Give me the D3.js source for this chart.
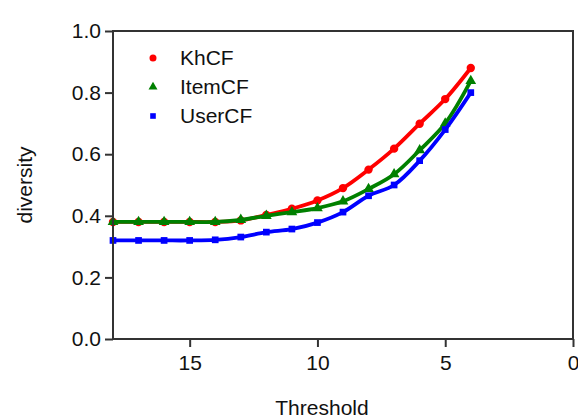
<!DOCTYPE html>
<html><head><meta charset="utf-8">
<script src="https://cdn.jsdelivr.net/npm/d3@7"></script>
<style>body{margin:0;background:#fff}svg{display:block}text{font-family:Arial,"Liberation Sans",sans-serif}</style>
</head><body><svg id="c" width="578" height="418"></svg>
<script>
const thresholds = [18,17,16,15,14,13,12,11,10,9,8,7,6,5,4];
const khcf   = [0.38,0.38,0.38,0.38,0.38,0.385,0.403,0.423,0.45,0.49,0.55,0.618,0.699,0.779,0.88];
const itemcf = [0.38,0.38,0.38,0.38,0.38,0.387,0.40,0.412,0.425,0.447,0.487,0.535,0.613,0.70,0.838];
const usercf = [0.32,0.32,0.32,0.32,0.322,0.331,0.347,0.357,0.378,0.412,0.465,0.50,0.579,0.68,0.80];
const seriesNames = ["KhCF","ItemCF","UserCF"];
const xTicks = [15,10,5,0];
const yTicks = [0,0.2,0.4,0.6,0.8,1.0];

const svg = d3.select("#c");
const x = d3.scaleLinear().domain([18,0]).range([113,573]);
const y = d3.scaleLinear().domain([0,1]).range([339,31]);
const axisColor = "#333";
const fs = "21px";

const series = [
  {name:seriesNames[0], vals:khcf, color:"#ff0000", shape:d3.symbolCircle, size:55},
  {name:seriesNames[1], vals:itemcf, color:"#008000", shape:d3.symbolTriangle, size:50},
  {name:seriesNames[2], vals:usercf, color:"#0000ff", shape:d3.symbolSquare, size:45}
];

const line = d3.line().x(d=>x(d[0])).y(d=>y(d[1])).curve(d3.curveCatmullRom.alpha(0.5));
series.forEach(s=>{
  const pts = thresholds.map((t,i)=>[t,s.vals[i]]);
  svg.append("path").attr("d",line(pts)).attr("fill","none").attr("stroke",s.color).attr("stroke-width",3.8);
  svg.selectAll(null).data(pts).enter().append("path")
    .attr("d",d3.symbol().type(s.shape).size(s.size))
    .attr("transform",d=>`translate(${x(d[0])},${y(d[1])})`)
    .attr("fill",s.color);
});

// axes
const xa = svg.append("g").attr("transform","translate(0,339)")
  .call(d3.axisBottom(x).tickValues(xTicks).tickFormat(d3.format("d")).tickSize(8).tickPadding(8));
const ya = svg.append("g").attr("transform","translate(113,0)")
  .call(d3.axisLeft(y).tickValues(yTicks).tickFormat(d3.format(".1f")).tickSize(8).tickPadding(4));
[xa,ya].forEach(g=>{
  g.select(".domain").remove();
  g.selectAll("line").attr("stroke",axisColor).attr("stroke-width",2);
  g.selectAll("text").attr("fill","#111").style("font-size",fs);
});
// frame
svg.append("rect").attr("x",113).attr("y",31).attr("width",460).attr("height",308)
  .attr("fill","none").attr("stroke",axisColor).attr("stroke-width",2);

// labels
svg.append("text").attr("x",322).attr("y",415).attr("text-anchor","middle")
  .style("font-size",fs).attr("fill","#111").text("Threshold");
svg.append("text").attr("transform","translate(32,185) rotate(-90)").attr("text-anchor","middle")
  .style("font-size",fs).attr("fill","#111").text("diversity");

// legend
series.forEach((s,i)=>{
  const ly = 58 + i*29;
  svg.append("path").attr("d",d3.symbol().type(s.shape).size(s.size*0.7))
    .attr("transform",`translate(153,${ly})`).attr("fill",s.color);
  svg.append("text").attr("x",180).attr("y",ly).attr("dy","0.35em")
    .style("font-size",fs).attr("fill","#111").text(s.name);
});
</script></body></html>
